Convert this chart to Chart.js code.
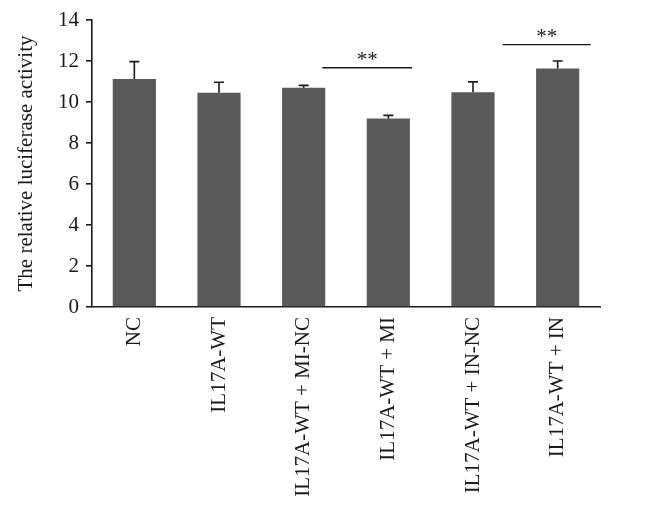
<!DOCTYPE html>
<html>
<head>
<meta charset="utf-8">
<script src="https://cdn.jsdelivr.net/npm/chart.js@4"></script>
<style>
html,body{margin:0;padding:0;background:#fff;}
#wrap{width:650px;height:515px;position:relative;}
</style>
</head>
<body>
<div id="wrap"><canvas id="c" width="650" height="515"></canvas></div>
<script>
const categories = ["NC", "IL17A-WT", "IL17A-WT + MI-NC", "IL17A-WT + MI", "IL17A-WT + IN-NC", "IL17A-WT + IN"];
const means = [11.12, 10.45, 10.70, 9.19, 10.47, 11.63];
const errors = [0.85, 0.51, 0.11, 0.16, 0.51, 0.37];
const yTicks = [0, 2, 4, 6, 8, 10, 12, 14];
// significance brackets
const sigFrom = [2.22, 4.35];
const sigTo = [3.28, 5.39];
const sigY = [11.67, 12.8];
const sigLabel = ["**", "**"];

const FONT = "'Liberation Serif', 'Times New Roman', serif";
const INK = "#1a1a1a";

const errorBarPlugin = {
  id: 'errbars',
  afterDatasetsDraw(chart) {
    const ctx = chart.ctx;
    const meta = chart.getDatasetMeta(0);
    const ys = chart.scales.y;
    const xs = chart.scales.x;
    ctx.save();
    ctx.strokeStyle = INK;
    ctx.lineWidth = 1.6;
    meta.data.forEach((bar, i) => {
      const x = bar.x;
      const y0 = ys.getPixelForValue(means[i]);
      const y1 = ys.getPixelForValue(means[i] + errors[i]);
      ctx.beginPath();
      ctx.moveTo(x, y0);
      ctx.lineTo(x, y1);
      ctx.moveTo(x - 5, y1);
      ctx.lineTo(x + 5, y1);
      ctx.stroke();
    });
    ctx.fillStyle = INK;
    ctx.font = "21px " + FONT;
    ctx.textAlign = 'center';
    ctx.textBaseline = 'alphabetic';
    const step = xs.getPixelForValue(1) - xs.getPixelForValue(0);
    for (let k = 0; k < sigFrom.length; k++) {
      const xa = xs.getPixelForValue(0) + sigFrom[k] * step;
      const xb = xs.getPixelForValue(0) + sigTo[k] * step;
      const yy = ys.getPixelForValue(sigY[k]);
      ctx.beginPath();
      ctx.lineWidth = 1.4;
      ctx.moveTo(xa, yy);
      ctx.lineTo(xb, yy);
      ctx.stroke();
      ctx.fillText(sigLabel[k], (xa + xb) / 2, yy - 2);
    }
    ctx.restore();
  }
};

new Chart(document.getElementById('c'), {
  type: 'bar',
  data: {
    labels: categories,
    datasets: [{
      data: means,
      backgroundColor: '#5a5a5a',
      borderWidth: 0,
      barPercentage: 0.51,
      categoryPercentage: 1.0
    }]
  },
  options: {
    responsive: false,
    animation: false,
    devicePixelRatio: 1,
    layout: { padding: { left: 0, right: 50, top: 20, bottom: 0 } },
    plugins: { legend: { display: false }, tooltip: { enabled: false } },
    scales: {
      x: {
        grid: { display: false, drawTicks: false },
        border: { display: true, color: INK, width: 1.6 },
        ticks: {
          color: INK,
          font: { family: FONT, size: 21 },
          minRotation: 90,
          maxRotation: 90,
          padding: 10,
          autoSkip: false
        },
        afterFit(s) { s.height = 208; }
      },
      y: {
        min: 0,
        max: 14,
        afterBuildTicks(s) { s.ticks = yTicks.map(v => ({ value: v })); },
        grid: { display: true, drawOnChartArea: false, drawTicks: true, tickLength: 6, color: INK, lineWidth: 1.6 },
        border: { display: true, color: INK, width: 1.6 },
        ticks: {
          color: INK,
          font: { family: FONT, size: 21 },
          padding: 7
        },
        title: {
          display: true,
          text: 'The relative luciferase activity',
          color: INK,
          font: { family: FONT, size: 21 },
          padding: { top: 14, bottom: 0 }
        },
        afterFit(s) { s.width = 92; }
      }
    }
  },
  plugins: [errorBarPlugin]
});
</script>
</body>
</html>
